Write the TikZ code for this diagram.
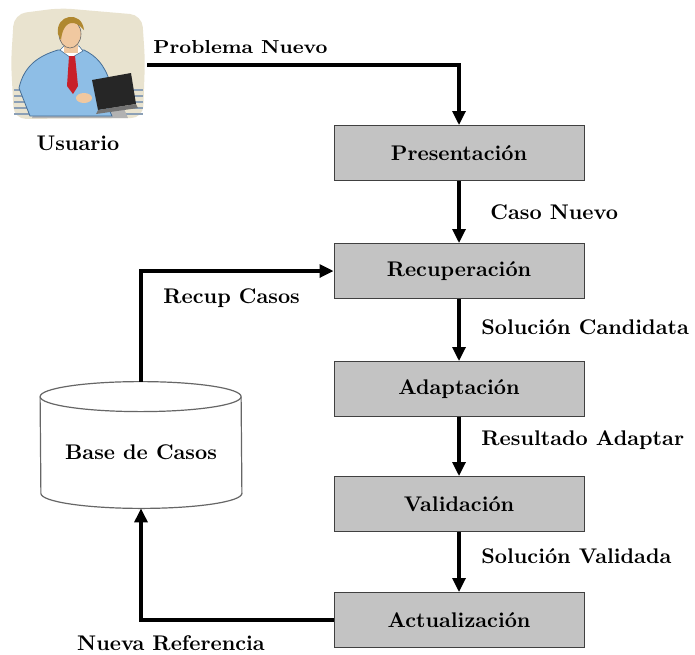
\documentclass[tikz,border=0pt]{standalone}
\usetikzlibrary{arrows.meta,calc}
\definecolor{boxgray}{RGB}{195,195,195}
\definecolor{paper}{RGB}{233,227,207}
\definecolor{shirt}{RGB}{142,190,230}
\definecolor{shirtdark}{RGB}{70,110,150}
\definecolor{skin}{RGB}{240,200,160}
\definecolor{hair}{RGB}{176,136,48}
\definecolor{tie}{RGB}{200,32,42}
\definecolor{bench}{RGB}{140,160,182}
\begin{document}
\begin{tikzpicture}[x=0.5pt,y=-0.5pt,
  flow/.style={line width=1.6pt,-{Triangle[length=7pt,width=6.5pt]}},
  stage/.style={draw=black!75,line width=0.5pt,fill=boxgray,minimum width=125pt,
    minimum height=27.5pt,inner sep=0pt,font=\fontsize{10.6}{12}\selectfont\bfseries},
  lbl/.style={font=\fontsize{10.6}{12}\selectfont\bfseries,inner sep=0pt}]
\useasboundingbox (0,0) rectangle (695,654);

% user clipart
\begin{scope}
  \fill[paper,rounded corners=6pt] (14,14) -- (60,8) -- (142,15) -- (145,60)
     -- (143,118) -- (14,119) -- (11,62) -- cycle;
  \foreach \yy in {90,96,102,108,114}{
    \draw[bench,line width=1pt] (14,\yy) -- (46,\yy);
    \draw[bench,line width=1pt] (112,\yy) -- (143,\yy);
  }
  \fill[gray!60] (36,106) -- (122,104) -- (128,118) -- (32,118) -- cycle;
  \filldraw[fill=shirt,draw=shirtdark,line width=0.4pt]
     (30,116) -- (19,88) .. controls (24,66) and (38,56) .. (58,50)
     -- (84,50) .. controls (96,56) and (104,64) .. (110,82)
     -- (104,98) -- (112,116) -- cycle;
  \filldraw[fill=white,draw=shirtdark,line width=0.3pt] (60,50) -- (71,58) -- (83,51) -- (79,46) -- (64,46) -- cycle;
  \fill[tie] (69,56) -- (75,56) -- (78,86) -- (73,94) -- (67,86) -- cycle;
  \fill[skin] (64,44) rectangle (78,53);
  \filldraw[fill=skin,draw=black!60,line width=0.3pt] (70,34) ellipse [x radius=11,y radius=14];
  \fill[hair] (58,34) .. controls (55,14) and (82,10) .. (84,30) -- (80,26)
     .. controls (72,20) and (63,22) .. (61,40) -- cycle;
  \fill[black!85] (92,80) -- (131,73) -- (136,104) -- (98,110) -- cycle;
  \fill[black!55] (98,110) -- (136,104) -- (138,108) -- (96,114) -- cycle;
  \fill[skin] (84,98) ellipse [x radius=8,y radius=5];
\end{scope}

% nodes
\node[lbl] (usuario) at (78,143) {Usuario};
\node[lbl,anchor=west] (pnlabel) at (153,47)
  {\fontsize{9.4}{11}\selectfont\resizebox{87pt}{\height}{Problema Nuevo}};
\coordinate (pn) at (147,65);

\node[stage] (pres) at (459,153) {Presentación};
\node[stage] (recu) at (459,271) {Recuperación};
\node[stage] (adap) at (459,389) {Adaptación};
\node[stage] (vali) at (459,504) {Validación};
\node[stage] (actu) at (459,620) {Actualización};

\node[lbl,anchor=west] (l1) at (490,212) {Caso Nuevo};
\node[lbl,anchor=west] (l2) at (481,327) {Solución Candidata};
\node[lbl,anchor=west] (l3) at (481,440) {Resultado Adaptar};
\node[lbl,anchor=west] (l4) at (481,556) {Solución Validada};
\node[lbl,anchor=west] (l5) at (163,298) {Recup Casos};
\node[lbl] (l6) at (171,643) {Nueva Referencia};

% case base cylinder
\node[inner sep=0pt,minimum width=100.5pt,minimum height=63pt] (base) at (141,445) {};
\draw[black!60,line width=0.6pt,fill=white]
  ($(base.north west)+(0,15)$) arc[start angle=180,end angle=360,x radius=100.5,y radius=15]
  -- ($(base.south east)+(0,-15)$) arc[start angle=0,end angle=180,x radius=100.5,y radius=15] -- cycle;
\draw[black!60,line width=0.6pt] ($(base.north west)+(0,15)$) arc[start angle=180,end angle=0,x radius=100.5,y radius=15];
\node[lbl] (basetext) at (141,452) {Base de Casos};

% connectors
\draw[flow] (pn) -| (pres.north);
\draw[flow] (pres.south) -- (recu.north);
\draw[flow] (recu.south) -- (adap.north);
\draw[flow] (adap.south) -- (vali.north);
\draw[flow] (vali.south) -- (actu.north);
\draw[flow] (base.north) |- (recu.west);
\draw[flow] (actu.west) -| (base.south);
\end{tikzpicture}
\end{document}
